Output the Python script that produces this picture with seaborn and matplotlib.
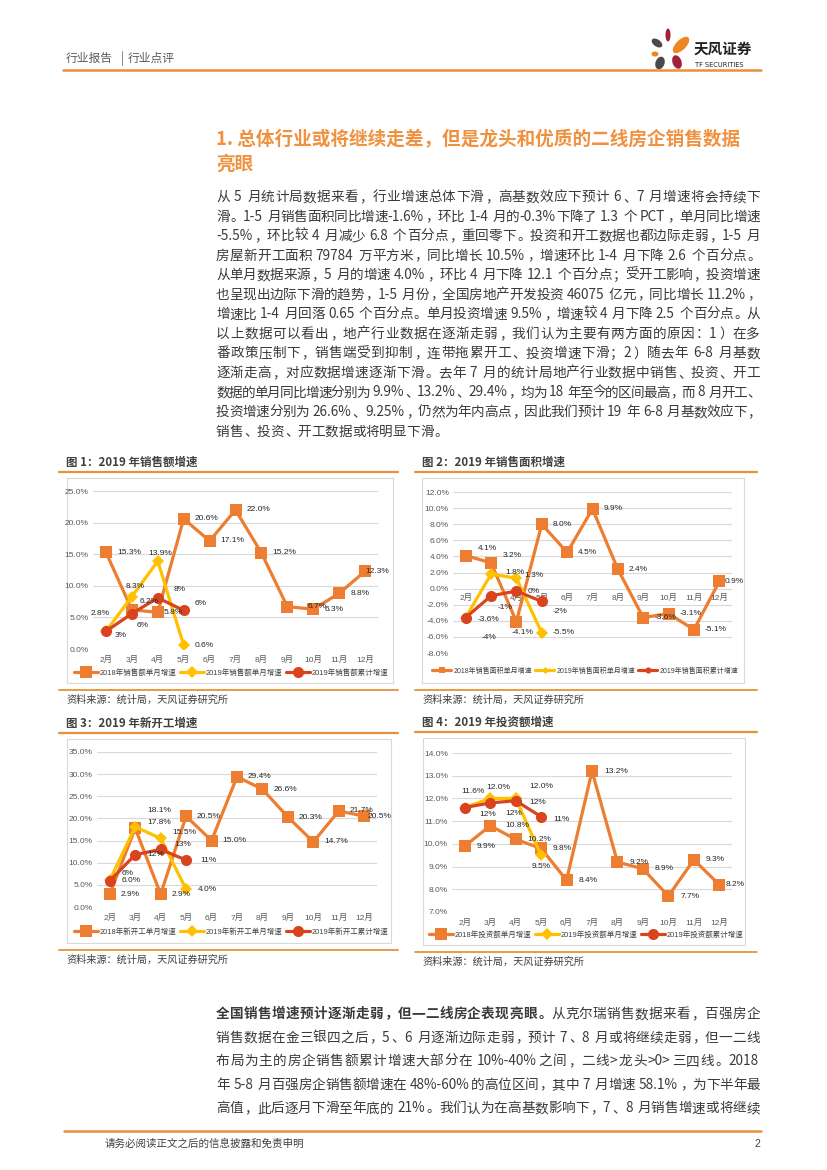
import re
import numpy as np
import pandas as pd
import matplotlib
matplotlib.use('Agg')
import matplotlib.pyplot as plt
import seaborn as sns
from matplotlib.patches import Rectangle, Ellipse

# ---------------- data ----------------
months = ['2月', '3月', '4月', '5月', '6月', '7月', '8月', '9月', '10月', '11月', '12月']

sales_2018 = [15.3, 6.2, 5.8, 20.6, 17.1, 22.0, 15.2, 6.7, 6.3, 8.8, 12.3]
sales_2019 = [2.8, 8.3, 13.9, 0.6]
sales_cum_2019 = [2.8, 5.6, 8.1, 6.1]

area_2018 = [4.1, 3.2, -4.1, 8.0, 4.5, 9.9, 2.4, -3.6, -3.1, -5.1, 0.9]
area_2019 = [-3.6, 1.8, 1.3, -5.5]
area_cum_2019 = [-3.6, -0.9, -0.3, -1.6]

start_2018 = [2.9, 17.8, 2.9, 20.5, 15.0, 29.4, 26.6, 20.3, 14.7, 21.7, 20.5]
start_2019 = [6.0, 18.1, 15.5, 4.0]
start_cum_2019 = [5.9, 11.8, 13.0, 10.6]

invest_2018 = [9.9, 10.8, 10.2, 9.8, 8.4, 13.2, 9.2, 8.9, 7.7, 9.3, 8.2]
invest_2019 = [11.6, 12.0, 12.0, 9.5]
invest_cum_2019 = [11.6, 11.8, 11.9, 11.2]

sales_names = ['2018年销售额单月增速', '2019年销售额单月增速', '2019年销售额累计增速']
area_names = ['2018年销售面积单月增速', '2019年销售面积单月增速', '2019年销售面积累计增速']
start_names = ['2018年新开工单月增速', '2019年新开工单月增速', '2019年新开工累计增速']
invest_names = ['2018年投资额单月增速', '2019年投资额单月增速', '2019年投资额累计增速']

chart_titles = ['图 1：2019 年销售额增速', '图 2：2019 年销售面积增速',
                '图 3：2019 年新开工增速', '图 4：2019 年投资额增速']
source_text = '资料来源：统计局，天风证券研究所'

heading = ['1. 总体行业或将继续走差，但是龙头和优质的二线房企销售数据', '亮眼']

body_lines = [
    '从 5 月统计局数据来看，行业增速总体下滑，高基数效应下预计 6、7 月增速将会持续下',
    '滑。1-5 月销售面积同比增速-1.6%，环比 1-4 月的-0.3%下降了 1.3 个 PCT，单月同比增速',
    '-5.5%，环比较 4 月减少 6.8 个百分点，重回零下。投资和开工数据也都边际走弱，1-5 月',
    '房屋新开工面积 79784 万平方米，同比增长 10.5%，增速环比 1-4 月下降 2.6 个百分点。',
    '从单月数据来源，5 月的增速 4.0%，环比 4 月下降 12.1 个百分点；受开工影响，投资增速',
    '也呈现出边际下滑的趋势，1-5 月份，全国房地产开发投资 46075 亿元，同比增长 11.2%，',
    '增速比 1-4 月回落 0.65 个百分点。单月投资增速 9.5%，增速较 4 月下降 2.5 个百分点。从',
    '以上数据可以看出，地产行业数据在逐渐走弱，我们认为主要有两方面的原因：1）在多',
    '番政策压制下，销售端受到抑制，连带拖累开工、投资增速下滑；2）随去年 6-8 月基数',
    '逐渐走高，对应数据增速逐渐下滑。去年 7 月的统计局地产行业数据中销售、投资、开工',
    '数据的单月同比增速分别为 9.9%、13.2%、29.4%，均为 18 年至今的区间最高，而 8 月开工、',
    '投资增速分别为 26.6%、9.25%，仍然为年内高点，因此我们预计 19 年 6-8 月基数效应下，',
    '销售、投资、开工数据或将明显下滑。',
]

bottom_bold = '全国销售增速预计逐渐走弱，但一二线房企表现亮眼。'
bottom_lines = [
    '从克尔瑞销售数据来看，百强房企',
    '销售数据在金三银四之后，5、6 月逐渐边际走弱，预计 7、8 月或将继续走弱，但一二线',
    '布局为主的房企销售额累计增速大部分在 10%-40%之间，二线>龙头>0>三四线。2018',
    '年 5-8 月百强房企销售额增速在 48%-60%的高位区间，其中 7 月增速 58.1%，为下半年最',
    '高值，此后逐月下滑至年底的 21%。我们认为在高基数影响下，7、8 月销售增速或将继续',
]

# ---------------- style ----------------
sns.set_theme(style='white')
plt.rcParams['font.family'] = ['Noto Sans CJK SC', 'DejaVu Sans']
NUM_FONT = ['Liberation Sans', 'Noto Sans CJK SC']

C18 = '#ED7D31'
C19 = '#FFC000'
CCUM = '#D9431E'
RULE = '#E8913A'
TITLE_ORANGE = '#F0913F'
GRID = '#D9D9D9'
TEXT = '#3a3a3a'

W, H = 827, 1170
fig = plt.figure(figsize=(8.27, 11.7), dpi=100)
bg = fig.add_axes([0, 0, 1, 1])
bg.set_xlim(0, W)
bg.set_ylim(H, 0)
bg.axis('off')
renderer = fig.canvas.get_renderer()


def ink_width(s, size, weight):
    t = bg.text(0, 0, s, fontsize=size, fontweight=weight)
    w = t.get_window_extent(renderer).width
    t.remove()
    return w


def put_line(y, parts, x0=216, x1=760, justify=True, size=9.8, color=TEXT):
    # split into single CJK glyphs, ASCII runs and spaces, then spread to full width
    em = size * 100 / 72
    toks = []
    for s, wt in parts:
        for tk in re.findall(r'[!-~]+| |[^!-~ ]', s):
            toks.append((tk, wt))
    widths = []
    for tk, wt in toks:
        if tk == ' ':
            widths.append(em * 0.28)
        elif ord(tk[0]) > 127:
            widths.append(em)
        else:
            widths.append(ink_width(tk, size, wt) + 1.0)
    extra = 0
    if justify and len(toks) > 1:
        extra = (x1 - x0 - sum(widths)) / (len(toks) - 1)
    x = x0
    for (tk, wt), w in zip(toks, widths):
        if tk != ' ':
            if ord(tk[0]) > 127:
                if tk in '，。、；：）':
                    bg.text(x + 0.08 * em, y, tk, fontsize=size, fontweight=wt, color=color,
                            va='center', ha='left')
                else:
                    bg.text(x + w / 2, y, tk, fontsize=size, fontweight=wt, color=color,
                            va='center', ha='center')
            else:
                bg.text(x, y, tk, fontsize=size, fontweight=wt, color=color,
                        va='center', ha='left')
        x += w + extra


# ---------------- header ----------------
bg.text(66, 58, '行业报告', fontsize=8.5, color='#595959', va='center')
bg.plot([122, 122], [51, 65], color='#8c8c8c', lw=0.7)
bg.text(128, 58, '行业点评', fontsize=8.5, color='#595959', va='center')
bg.plot([63, 761], [70, 70], color=RULE, lw=1.8)

for cx, cy, w, h, ang, col in [(668, 35, 5, 13, 0, '#A3203A'),
                               (681, 45, 21, 10, -45, '#EE8623'),
                               (657, 43, 12, 7, 35, '#4a4a4a'),
                               (655, 54, 7, 5, 0, '#EE8623'),
                               (660, 63, 9, 13, 20, '#4a4a4a'),
                               (677, 62, 9, 14, -20, '#A3203A')]:
    bg.add_patch(Ellipse((cx, cy), w, h, angle=ang, color=col, lw=0))
bg.text(694, 49, '天风证券', fontsize=10.5, fontweight='bold', color='#222222', va='center')
bg.text(695, 65, 'TF SECURITIES', fontsize=4.8, color='#222222', va='center',
        family=['DejaVu Sans'])

# ---------------- heading and first paragraph ----------------
bg.text(216, 140, heading[0], fontsize=13.4, fontweight='bold', color=TITLE_ORANGE, va='center')
bg.text(216, 164, heading[1], fontsize=13.4, fontweight='bold', color=TITLE_ORANGE, va='center')

for i, line in enumerate(body_lines):
    put_line(197 + i * 19.55, [(line, 'normal')], justify=(i < len(body_lines) - 1))


# ---------------- charts ----------------
def draw_chart(plot_px, box_px, col_x, title, ylim, ystep, s18, s19, c19, names,
               offs, legend_xy, zero_axis=False, leg_scale=1.0, leg_size=5.4, leg_hl=3.2):
    l, t, r, b = plot_px
    bx0, by0, bx1, by1 = box_px
    # title, rules, box, source
    bg.text(col_x[0] + 7, by0 - 16, title, fontsize=8.3, fontweight='bold', color='#404040',
            va='center')
    bg.plot([col_x[0], col_x[1]], [by0 - 6.5, by0 - 6.5], color=RULE, lw=1.6)
    bg.add_patch(Rectangle((bx0, by0), bx1 - bx0, by1 - by0, fill=False, ec=GRID, lw=0.8))
    bg.plot([col_x[0], col_x[1]], [by1 + 6.5, by1 + 6.5], color=RULE, lw=1.3)
    bg.text(col_x[0] + 7, by1 + 17, source_text, fontsize=7.3, color='#404040', va='center')

    ax = fig.add_axes([l / W, 1 - b / H, (r - l) / W, (b - t) / H])
    ax.set_facecolor('none')
    df18 = pd.DataFrame({'pos': range(len(s18)), 'val': s18})
    df19 = pd.DataFrame({'pos': range(len(s19)), 'val': s19})
    dfc = pd.DataFrame({'pos': range(len(c19)), 'val': c19})
    sns.lineplot(data=df18, x='pos', y='val', ax=ax, color=C18, lw=2.3, marker='s',
                 markersize=8.5, mec=C18, mew=0, label=names[0], zorder=3)
    sns.lineplot(data=df19, x='pos', y='val', ax=ax, color=C19, lw=2.3, marker='D',
                 markersize=6.5, mec=C19, mew=0, label=names[1], zorder=4)
    sns.lineplot(data=dfc, x='pos', y='val', ax=ax, color=CCUM, lw=2.3, marker='o',
                 markersize=8, mec=CCUM, mew=0, label=names[2], zorder=5)

    # data labels
    o18, o19, oc = offs
    for series, fmt, off in [(s18, '{:.1f}%', o18), (s19, '{:.1f}%', o19), (c19, None, oc)]:
        for i, v in enumerate(series):
            txt = fmt.format(v) if fmt else '{:d}%'.format(round(v))
            dx, dy, ha = off[i]
            ax.annotate(txt, (i, v), xytext=(dx, dy), textcoords='offset pixels',
                        ha=ha, va='center', fontsize=6, color='#262626', family=NUM_FONT,
                        zorder=8, annotation_clip=False)

    ax.set_xlim(-0.5, len(months) - 0.5)
    ax.set_ylim(*ylim)
    ax.set_yticks(np.arange(ylim[0], ylim[1] + ystep / 2, ystep))
    ax.yaxis.set_major_formatter(matplotlib.ticker.FuncFormatter(lambda v, p: f'{v:.1f}%'))
    ax.grid(axis='y', color=GRID, lw=0.8)
    ax.grid(axis='x', visible=False)
    for sp in ax.spines.values():
        sp.set_visible(False)
    ax.tick_params(axis='both', length=0, labelsize=6, labelcolor='#595959', pad=3)
    for lab in ax.get_yticklabels():
        lab.set_family(NUM_FONT)
    ax.set_xlabel('')
    ax.set_ylabel('')
    if zero_axis:
        ax.set_xticks(range(len(months)), [''] * len(months))
        for i, m in enumerate(months):
            ax.annotate(m, (i, 0), xytext=(0, -9), textcoords='offset pixels', ha='center',
                        va='center', fontsize=6, color='#595959', family=NUM_FONT)
    else:
        ax.set_xticks(range(len(months)), months)
        ax.tick_params(axis='x', pad=5)
        for lab in ax.get_xticklabels():
            lab.set_family(NUM_FONT)
    ax.legend(loc='center', bbox_to_anchor=(legend_xy[0] / W, 1 - legend_xy[1] / H),
              bbox_transform=fig.transFigure, ncol=3, frameon=False,
              prop={'family': NUM_FONT, 'size': leg_size}, handlelength=leg_hl,
              handletextpad=0.3, columnspacing=0.4, markerscale=leg_scale, labelcolor='#404040')
    return ax


def right(n, dx=11, dy=0):
    return [(dx, dy, 'left')] * n


# chart 1
o18 = right(11)
o18[1] = (8, 8, 'left')
o18[2] = (6, 0, 'left')
o18[7] = (20, 0, 'left')
o18[10] = (0, 0, 'left')
o19 = [(-6, 18, 'center'), (3, 10, 'center'), (2, 8, 'center'), (11, 0, 'left')]
oc = [(9, -4, 'left'), (5, -12, 'left'), (16, 8, 'left'), (11, 7, 'left')]
draw_chart((93, 491, 378, 649), (67, 478, 393, 683), (59, 398), chart_titles[0],
           (0, 25), 5, sales_2018, sales_2019, sales_cum_2019, sales_names,
           (o18, o19, oc), (231, 673))

# chart 2
o18 = right(11)
o18[0] = (12, 7, 'left')
o18[1] = (12, 7, 'left')
o18[2] = (6, -11, 'center')
o18[10] = (5, 0, 'left')
o19 = [(12, -2, 'left'), (14, 2, 'left'), (8, 3, 'left'), (11, 0, 'left')]
oc = [(16, -20, 'left'), (7, -12, 'left'), (11, 0, 'left'), (11, -10, 'left')]
draw_chart((453, 492, 732, 653), (422, 478, 744, 683), (415, 757), chart_titles[1],
           (-8, 12), 2, area_2018, area_2019, area_cum_2019, area_names,
           (o18, o19, oc), (585, 671), zero_axis=True, leg_scale=0.55, leg_size=5.0,
           leg_hl=2.8)

# chart 3
o18 = right(11)
o18[1] = (12, 6, 'left')
o18[10] = (3, 0, 'left')
o19 = [(12, 0, 'left'), (12, 16, 'left'), (12, 6, 'left'), (12, 0, 'left')]
oc = [(12, 7, 'left'), (12, 0, 'left'), (14, 5, 'left'), (14, 0, 'left')]
draw_chart((97, 752, 377, 907), (67, 739, 391, 943), (59, 398), chart_titles[2],
           (0, 35), 5, start_2018, start_2019, start_cum_2019, start_names,
           (o18, o19, oc), (231, 932))

# chart 4
o18 = right(11, dx=12)
o18[1] = (15, 0, 'left')
o18[10] = (6, 0, 'left')
o19 = [(8, 16, 'center'), (8, 11, 'center'), (14, 12, 'left'), (0, -11, 'center')]
oc = [(15, -7, 'left'), (15, -11, 'left'), (14, -2, 'left'), (12, -3, 'left')]
draw_chart((452, 753, 732, 912), (423, 738, 745, 945), (415, 757), chart_titles[3],
           (7, 14), 1, invest_2018, invest_2019, invest_cum_2019, invest_names,
           (o18, o19, oc), (586, 935))

# ---------------- second paragraph ----------------
for i, line in enumerate(bottom_lines):
    parts = [(bottom_bold, 'bold'), (line, 'normal')] if i == 0 else [(line, 'normal')]
    put_line(1014 + i * 23.6, parts, justify=True)

# ---------------- footer ----------------
bg.plot([64, 761], [1131, 1131], color=RULE, lw=1.8)
bg.text(105, 1144, '请务必阅读正文之后的信息披露和免责申明', fontsize=7.6, color='#404040', va='center')
bg.text(760, 1144, '2', fontsize=7.6, color='#404040', va='center', ha='right', family=NUM_FONT)

fig.savefig('out.png', dpi=100)
